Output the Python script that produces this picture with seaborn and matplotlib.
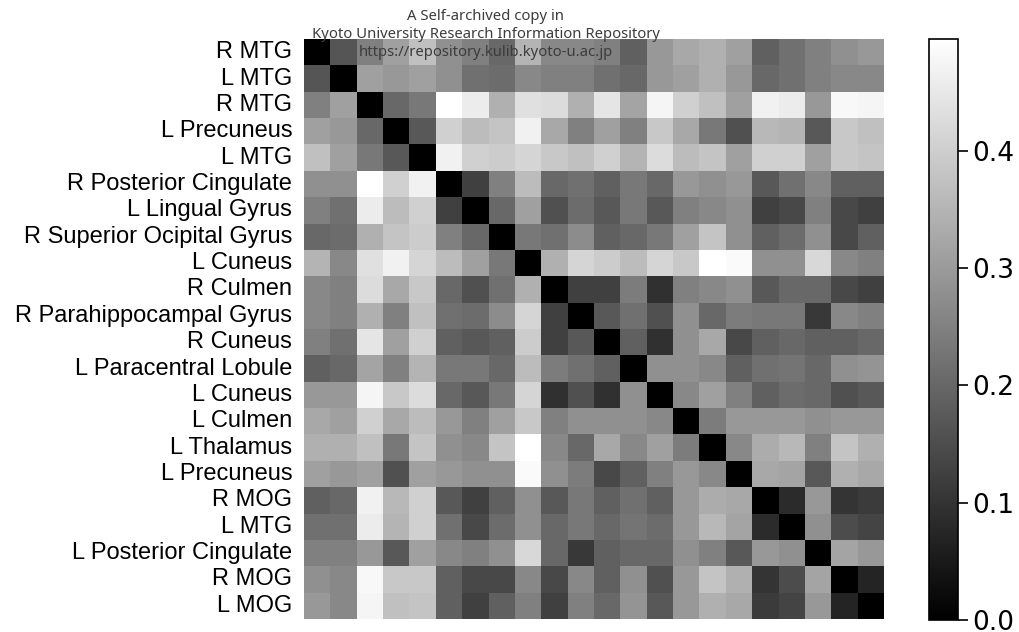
"""
Grey-scale distance matrix between brain regions, drawn with seaborn.heatmap.
"""

import numpy as np
import pandas as pd
import seaborn as sns
from matplotlib import pyplot as plt

regions = [
    "R MTG", "L MTG", "R MTG", "L Precuneus", "L MTG",
    "R Posterior Cingulate", "L Lingual Gyrus", "R Superior Ocipital Gyrus",
    "L Cuneus", "R Culmen", "R Parahippocampal Gyrus", "R Cuneus",
    "L Paracentral Lobule", "L Cuneus", "L Culmen", "L Thalamus",
    "L Precuneus", "R MOG", "L MTG", "L Posterior Cingulate", "R MOG", "L MOG",
]

# lower triangle, row i holds the values against regions 0..i-1 (matrix is symmetric)
lower = [
    [0.165],
    [0.248, 0.311],
    [0.311, 0.295, 0.202],
    [0.373, 0.311, 0.233, 0.171],
    [0.280, 0.280, 0.495, 0.404, 0.466],
    [0.248, 0.217, 0.458, 0.365, 0.404, 0.124],
    [0.202, 0.210, 0.342, 0.380, 0.396, 0.248, 0.202],
    [0.349, 0.264, 0.435, 0.466, 0.412, 0.365, 0.311, 0.233],
    [0.264, 0.248, 0.427, 0.326, 0.388, 0.202, 0.155, 0.217, 0.342],
    [0.264, 0.248, 0.342, 0.248, 0.373, 0.217, 0.210, 0.272, 0.412, 0.124],
    [0.248, 0.217, 0.443, 0.311, 0.404, 0.186, 0.171, 0.186, 0.396, 0.124, 0.171],
    [0.186, 0.202, 0.318, 0.248, 0.349, 0.233, 0.233, 0.202, 0.365, 0.241, 0.217,
     0.186],
    [0.295, 0.295, 0.474, 0.388, 0.427, 0.202, 0.171, 0.233, 0.412, 0.093, 0.155,
     0.093, 0.280],
    [0.326, 0.311, 0.404, 0.326, 0.365, 0.295, 0.248, 0.311, 0.388, 0.248, 0.280,
     0.280, 0.280, 0.264],
    [0.342, 0.342, 0.373, 0.233, 0.380, 0.280, 0.264, 0.380, 0.495, 0.264, 0.202,
     0.326, 0.264, 0.311, 0.241],
    [0.311, 0.295, 0.311, 0.155, 0.311, 0.295, 0.280, 0.280, 0.485, 0.280, 0.241,
     0.140, 0.186, 0.248, 0.295, 0.264],
    [0.186, 0.202, 0.466, 0.357, 0.404, 0.171, 0.124, 0.186, 0.280, 0.171, 0.233,
     0.186, 0.217, 0.186, 0.295, 0.334, 0.326],
    [0.217, 0.217, 0.458, 0.349, 0.404, 0.217, 0.140, 0.210, 0.280, 0.202, 0.233,
     0.202, 0.225, 0.210, 0.295, 0.357, 0.318, 0.085],
    [0.248, 0.248, 0.295, 0.171, 0.311, 0.264, 0.248, 0.280, 0.419, 0.202, 0.109,
     0.186, 0.202, 0.202, 0.280, 0.248, 0.171, 0.295, 0.280],
    [0.280, 0.264, 0.481, 0.388, 0.388, 0.186, 0.140, 0.140, 0.264, 0.140, 0.264,
     0.186, 0.280, 0.155, 0.295, 0.380, 0.342, 0.101, 0.148, 0.318],
    [0.295, 0.264, 0.474, 0.373, 0.380, 0.186, 0.124, 0.186, 0.248, 0.124, 0.248,
     0.202, 0.287, 0.171, 0.295, 0.342, 0.326, 0.116, 0.132, 0.295, 0.070],
]

watermark = [
    "A Self-archived copy in",
    "Kyoto University Research Information Repository",
    "https://repository.kulib.kyoto-u.ac.jp",
]


def build_matrix(rows):
    """Fill a symmetric matrix from its lower triangle, zero diagonal."""
    n = len(rows) + 1
    m = np.zeros((n, n))
    for i, row in enumerate(rows, start=1):
        m[i, :i] = row
        m[:i, i] = row
    return m


def main():
    df = pd.DataFrame(build_matrix(lower))

    fig = plt.figure(figsize=(10.2, 6.32), dpi=100)
    W, H = 1020, 632
    ax = fig.add_axes([304 / W, 1 - 619 / H, 580 / W, 580 / H])
    cax = fig.add_axes([929 / W, 1 - 620 / H, 29 / W, 581 / H])

    sns.heatmap(
        df,
        ax=ax,
        cbar_ax=cax,
        cmap="gray",
        vmin=0,
        vmax=0.495,
        xticklabels=False,
        yticklabels=regions,
    )

    ax.tick_params(axis="y", length=0, pad=8.5)
    for lbl in ax.get_yticklabels():
        lbl.set_fontfamily("Liberation Sans")
        lbl.set_fontsize(17)
        lbl.set_rotation(0)

    cax.set_yticks([0.0, 0.1, 0.2, 0.3, 0.4])
    cax.tick_params(labelsize=19, length=7, width=1.2)
    cbar = ax.collections[0].colorbar
    cbar.outline.set_visible(True)
    cbar.outline.set_edgecolor("black")
    cbar.outline.set_linewidth(1.2)

    # repository stamp over the top of the figure
    for text, y in zip(watermark, [16, 34, 53]):
        fig.text(486 / W, 1 - y / H, text, ha="center", va="center",
                 fontsize=10.7, color="#3c3c3c", family="Noto Sans")

    fig.savefig("out.png", dpi=100)


if __name__ == "__main__":
    main()
